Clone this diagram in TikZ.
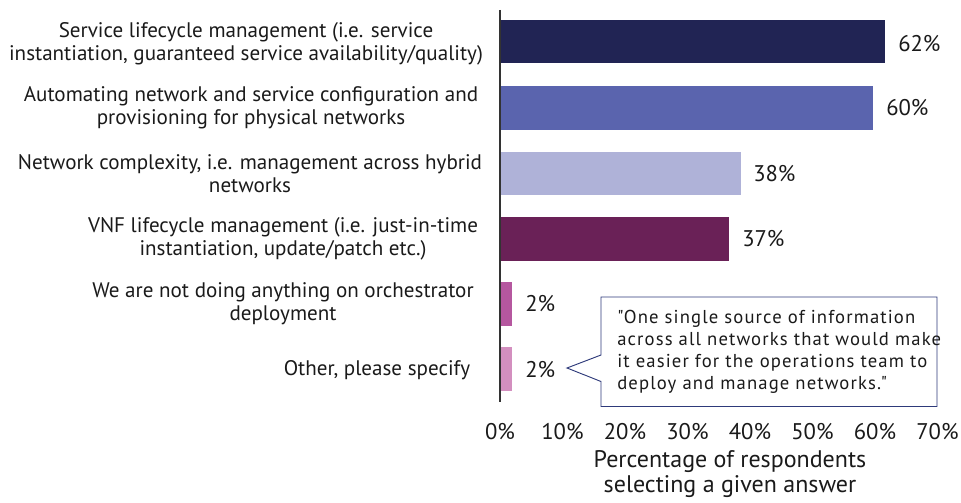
\documentclass[tikz,border=0pt]{standalone}
\usepackage{fontspec}
\setmainfont{PT Sans}
\newfontfamily\quotefont{PT Sans}[LetterSpace=6]
\definecolor{cA}{HTML}{212454}
\definecolor{cB}{HTML}{5A64AE}
\definecolor{cC}{HTML}{AFB2D8}
\definecolor{cD}{HTML}{6A2157}
\definecolor{cE}{HTML}{B5579F}
\definecolor{cF}{HTML}{D38FBF}
\definecolor{boxc}{HTML}{2E3A7A}
\definecolor{txt}{HTML}{1A1A1A}
\begin{document}
\begin{tikzpicture}[x=0.75pt,y=-0.75pt,
  lbl/.style={align=center,font=\fontsize{15.8}{17.3}\selectfont,text=txt,inner sep=0pt},
  val/.style={anchor=west,font=\fontsize{17}{19}\selectfont,text=txt,inner sep=0pt},
  tick/.style={font=\fontsize{17}{19}\selectfont,text=txt,inner sep=0pt}]
\useasboundingbox (0,0) rectangle (961,503);
% bars
\fill[cA] (500,20) rectangle (885,63.5);
\fill[cB] (500,86) rectangle (873,130);
\fill[cC] (500,152) rectangle (741,195);
\fill[cD] (500,217) rectangle (729,261);
\fill[cE] (500,282) rectangle (512,325.5);
\fill[cF] (500,347) rectangle (512,391);
% axis
\draw[line width=1.1pt,black!80] (500,10) -- (500,402);
% category labels
\node[lbl] (l1) at (246,43.5) {Service lifecycle management (i.e. service\\instantiation, guaranteed service availability/quality)};
\node[lbl] (l2) at (251,107.5) {Automating network and service configuration and\\provisioning for physical networks};
\node[lbl] (l3) at (250,173.5) {Network complexity, i.e. management across hybrid\\networks};
\node[lbl] (l4) at (283,238.5) {VNF lifecycle management (i.e. just-in-time\\instantiation, update/patch etc.)};
\node[lbl] (l5) at (283,304) {We are not doing anything on orchestrator\\deployment};
\node[lbl] (l6) at (377,370) {Other, please specify};
% value labels
\node[val] (v1) at (898,44) {62\%};
\node[val] (v2) at (886,108) {60\%};
\node[val] (v3) at (753,173.5) {38\%};
\node[val] (v4) at (742,238.5) {37\%};
\node[val] (v5) at (525,303.5) {2\%};
\node[val] (v6) at (525,369.5) {2\%};
% ticks
\foreach \i in {0,...,7}{
  \node[tick] (t\i) at (500+62.5*\i,432) {\the\numexpr\i*10\relax\%};
}
\node[lbl,font=\fontsize{18}{18.75}\selectfont] (xt) at (730,474.5) {Percentage of respondents\\selecting a given answer};
% callout
\coordinate (tip) at (567,368);
\draw[boxc,line width=0.7pt,fill=white] (601,297) -- (937,297) -- (937,406.5) -- (601,406.5) -- (601,381.5) -- (tip) -- (601,355) -- cycle;
\node[anchor=north west,align=left,inner sep=0pt,font=\quotefont\fontsize{14}{16.5}\selectfont,text=txt] (q) at (617,310) {"One single source of information\\across all networks that would make\\it easier for the operations team to\\deploy and manage networks."};
\end{tikzpicture}
\end{document}
